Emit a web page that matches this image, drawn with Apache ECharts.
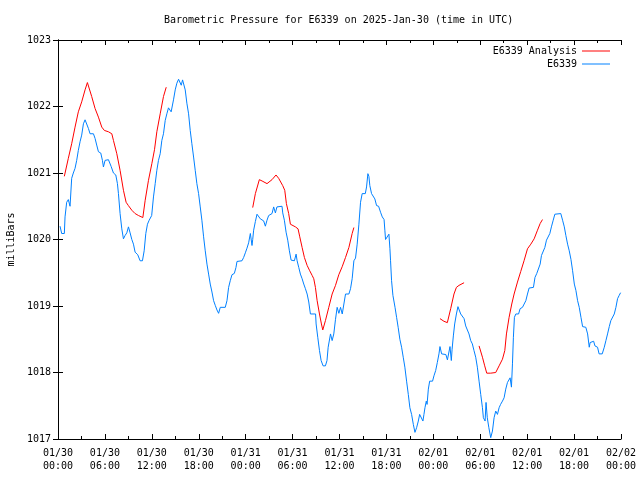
<!DOCTYPE html>
<html>
<head>
<meta charset="utf-8">
<script src="https://cdn.jsdelivr.net/npm/echarts@6/dist/echarts.min.js"></script>
<style>html,body{margin:0;padding:0;background:#fff;}#c{width:640px;height:480px;}</style>
</head>
<body>
<div id="c"></div>
<script>
const titleText = 'Barometric Pressure for E6339 on 2025-Jan-30 (time in UTC)';
const xTickLabels = ['01/30\n00:00','01/30\n06:00','01/30\n12:00','01/30\n18:00','01/31\n00:00','01/31\n06:00','01/31\n12:00','01/31\n18:00','02/01\n00:00','02/01\n06:00','02/01\n12:00','02/01\n18:00','02/02\n00:00'];
// hours since 01/30 00:00 UTC
const obsHours = [0.26,0.47,0.81,0.90,1.11,1.32,1.54,1.75,1.96,2.18,2.39,2.60,2.82,3.03,3.25,3.46,3.67,3.89,4.10,4.53,4.74,4.95,5.17,5.47,5.68,5.81,6.02,6.45,6.79,7.09,7.39,7.60,7.73,7.94,8.16,8.37,8.58,8.80,9.01,9.22,9.44,9.65,9.86,10.2,10.5,10.8,11.02,11.23,11.44,11.66,11.98,12.21,12.43,12.64,12.85,13.07,13.28,13.49,13.71,13.92,14.13,14.35,14.47,14.6,14.77,14.99,15.2,15.42,15.63,15.76,15.93,16.05,16.27,16.48,16.7,16.91,17.12,17.34,17.55,17.76,17.98,18.19,18.4,18.62,18.83,19.05,19.26,19.47,19.69,19.9,20.11,20.33,20.54,20.75,21.39,21.61,21.82,22.03,22.25,22.55,22.76,22.89,23.53,23.74,23.96,24.17,24.38,24.6,24.81,24.9,25.02,25.24,25.45,25.66,25.88,26.09,26.3,26.52,26.73,26.94,27.16,27.37,27.58,27.8,28.0,28.22,28.65,28.74,28.95,29.17,29.38,29.59,29.81,30.23,30.45,30.58,30.79,31.0,31.22,31.43,31.64,31.86,32.07,32.28,32.94,33.01,33.22,33.44,33.65,33.9,34.2,34.4,34.55,34.85,35.06,35.27,35.49,35.7,35.92,36.13,36.35,36.56,36.77,37.2,37.41,37.62,37.84,38.05,38.26,38.48,38.69,38.9,39.3,39.46,39.63,39.76,39.88,40.1,40.3,40.52,40.74,41.0,41.25,41.47,41.7,41.8,41.89,42.1,42.32,42.45,42.53,42.66,42.83,43.1,43.3,43.5,43.72,43.94,44.15,44.36,44.58,44.8,45.0,45.22,45.44,45.65,45.86,46.08,46.25,46.5,46.67,46.8,46.93,47.1,47.2,47.36,47.53,47.9,48.08,48.3,48.51,48.72,48.85,49.06,49.6,49.8,50.0,50.13,50.3,50.4,50.56,50.73,50.95,51.15,51.35,51.5,51.7,51.93,52.14,52.35,52.56,52.78,52.99,53.2,53.42,53.63,53.85,54.06,54.28,54.4,54.5,54.62,54.74,54.9,55.1,55.34,55.56,55.77,55.98,56.1,56.2,56.41,56.6,56.84,57.05,57.26,57.48,57.7,57.82,57.99,58.12,58.24,58.37,58.55,58.9,59.1,59.4,59.6,59.83,60.04,60.25,60.47,60.8,61.0,61.23,61.45,61.66,61.83,62.05,62.26,62.47,62.7,62.9,63.1,63.33,63.54,63.75,64.3,64.53,64.75,64.95,65.17,65.38,65.6,65.81,66.03,66.24,66.45,66.66,66.88,67.09,67.5,67.73,67.94,68.05,68.24,68.5,68.67,69.0,69.2,69.6,69.86,70.07,70.28,70.5,70.7,70.9,71.14,71.35,71.56,71.77,71.95];
const obsPressure = [1020.20,1020.09,1020.09,1020.34,1020.56,1020.60,1020.50,1020.92,1021.00,1021.07,1021.19,1021.34,1021.47,1021.57,1021.74,1021.80,1021.80,1021.67,1021.59,1021.59,1021.52,1021.42,1021.32,1021.30,1021.19,1021.09,1021.19,1021.20,1021.10,1021.00,1020.97,1020.84,1020.69,1020.39,1020.16,1020.01,1020.06,1020.10,1020.19,1020.10,1020.00,1019.93,1019.81,1019.77,1019.68,1019.68,1019.83,1020.09,1020.23,1020.29,1020.36,1020.64,1020.84,1021.04,1021.19,1021.29,1021.49,1021.59,1021.79,1021.89,1021.98,1022.00,1021.92,1021.90,1022.10,1022.25,1022.35,1022.41,1022.40,1022.32,1022.40,1022.41,1022.25,1022.05,1021.89,1021.64,1021.44,1021.24,1021.04,1020.84,1020.69,1020.49,1020.29,1020.04,1019.83,1019.63,1019.48,1019.33,1019.21,1019.08,1019.01,1018.94,1018.89,1018.98,1018.98,1019.08,1019.28,1019.38,1019.47,1019.49,1019.58,1019.67,1019.68,1019.73,1019.80,1019.87,1019.95,1020.09,1019.91,1020.00,1020.14,1020.27,1020.38,1020.39,1020.31,1020.30,1020.28,1020.20,1020.29,1020.36,1020.39,1020.39,1020.49,1020.40,1020.49,1020.50,1020.50,1020.40,1020.29,1020.11,1019.99,1019.83,1019.69,1019.68,1019.78,1019.68,1019.58,1019.48,1019.41,1019.33,1019.26,1019.18,1019.06,1018.88,1018.88,1018.73,1018.53,1018.33,1018.18,1018.10,1018.10,1018.18,1018.38,1018.58,1018.48,1018.58,1018.80,1018.98,1018.89,1018.98,1018.88,1019.03,1019.18,1019.18,1019.26,1019.41,1019.68,1019.72,1019.93,1020.23,1020.56,1020.69,1020.69,1020.79,1020.99,1020.95,1020.81,1020.69,1020.68,1020.61,1020.51,1020.50,1020.41,1020.34,1020.30,1020.14,1020.00,1020.01,1020.08,1019.86,1019.68,1019.38,1019.16,1018.98,1018.83,1018.68,1018.50,1018.38,1018.23,1018.08,1017.87,1017.67,1017.47,1017.37,1017.22,1017.10,1017.17,1017.27,1017.37,1017.35,1017.27,1017.37,1017.47,1017.57,1017.52,1017.75,1017.87,1017.87,1017.95,1018.03,1018.15,1018.28,1018.39,1018.28,1018.27,1018.19,1018.22,1018.39,1018.18,1018.35,1018.55,1018.73,1018.88,1018.99,1018.98,1018.88,1018.87,1018.81,1018.70,1018.68,1018.58,1018.48,1018.43,1018.33,1018.23,1018.08,1017.87,1017.67,1017.47,1017.32,1017.35,1017.27,1017.55,1017.32,1017.17,1017.02,1017.12,1017.32,1017.42,1017.41,1017.37,1017.47,1017.52,1017.57,1017.62,1017.75,1017.85,1017.83,1017.92,1017.78,1018.13,1018.53,1018.83,1018.88,1018.88,1018.96,1018.98,1019.00,1019.08,1019.18,1019.27,1019.28,1019.28,1019.43,1019.49,1019.50,1019.63,1019.76,1019.79,1019.88,1019.99,1020.00,1020.09,1020.19,1020.29,1020.38,1020.39,1020.39,1020.29,1020.19,1020.06,1019.93,1019.83,1019.70,1019.53,1019.33,1019.23,1019.08,1018.98,1018.83,1018.69,1018.68,1018.58,1018.38,1018.45,1018.48,1018.47,1018.40,1018.38,1018.28,1018.28,1018.38,1018.48,1018.58,1018.69,1018.78,1018.79,1018.88,1018.98,1019.11,1019.16,1019.20];
// analysis: null marks a gap between segments
const anaHours = [0.81,1.32,1.75,2.18,2.6,3.03,3.46,3.76,4.31,4.74,5.17,5.6,5.93,6.45,6.88,7.09,7.52,7.94,8.37,8.71,9.0,9.44,9.86,10.3,10.85,11.15,11.57,12.0,12.34,12.64,13.07,13.49,13.84,
  18.0,
  24.9,25.24,25.75,26.1,26.73,27.37,27.88,28.22,28.74,29.0,29.21,29.5,29.72,29.94,30.36,30.7,30.92,31.22,31.51,31.86,32.19,32.5,32.71,32.92,33.14,33.44,33.69,33.86,34.2,34.63,35.06,35.49,35.91,36.34,36.77,37.2,37.62,37.84,
  42.0,
  48.85,49.36,49.79,50.22,50.64,50.95,51.28,51.93,
  52.9,
  53.85,54.28,54.57,54.83,55.34,55.98,56.41,56.84,57.14,57.35,57.69,58.03,58.33,58.76,59.18,59.6,60.04,60.47,60.89,61.32,61.66,61.96];
const anaPressure = [1020.95,1021.22,1021.44,1021.69,1021.92,1022.07,1022.25,1022.36,1022.15,1021.97,1021.84,1021.69,1021.64,1021.62,1021.59,1021.49,1021.29,1021.04,1020.74,1020.56,1020.51,1020.44,1020.39,1020.36,1020.33,1020.59,1020.89,1021.14,1021.35,1021.62,1021.89,1022.15,1022.29,
  null,
  1020.48,1020.69,1020.90,1020.88,1020.84,1020.90,1020.97,1020.92,1020.81,1020.74,1020.54,1020.39,1020.23,1020.20,1020.19,1020.16,1020.04,1019.88,1019.73,1019.61,1019.53,1019.46,1019.41,1019.28,1019.08,1018.88,1018.73,1018.64,1018.78,1018.98,1019.18,1019.31,1019.47,1019.59,1019.73,1019.88,1020.09,1020.18,
  null,
  1018.81,1018.77,1018.75,1018.96,1019.18,1019.28,1019.31,1019.35,
  null,
  1018.40,1018.23,1018.10,1017.99,1017.99,1018.00,1018.10,1018.20,1018.33,1018.58,1018.83,1019.03,1019.18,1019.36,1019.52,1019.68,1019.86,1019.93,1020.01,1020.14,1020.24,1020.30];

const FONT = 'DejaVu Sans Mono';
const chart = echarts.init(document.getElementById('c'), null, {renderer: 'canvas'});
const pairs = (xs, ys) => xs.map((x, i) => [x, ys[i] === null ? '-' : ys[i]]);
const legendBase = {
  orient: 'vertical', align: 'right', icon: 'rect', itemWidth: 28, itemHeight: 1,
  padding: 0, itemGap: 0, right: 30,
  textStyle: {fontFamily: FONT, fontSize: 10, color: '#000'}
};
const xBase = {
  type: 'value', min: 0, max: 72, interval: 6,
  axisLine: {lineStyle: {color: '#000', width: 1}},
  axisTick: {inside: true, length: 5, lineStyle: {color: '#000'}},
  minorTick: {show: true, splitNumber: 2, length: 3, lineStyle: {color: '#000'}},
  splitLine: {show: false}
};
chart.setOption({
  animation: false,
  backgroundColor: '#fff',
  title: {text: titleText, left: 164, top: 15, padding: 0,
    textStyle: {fontFamily: FONT, fontSize: 10, fontWeight: 'normal', color: '#000'}},
  legend: [
    Object.assign({}, legendBase, {data: ['E6339 Analysis'], top: 46}),
    Object.assign({}, legendBase, {data: ['E6339'], top: 59})
  ],
  grid: {left: 58, right: 19, top: 40, bottom: 41, containLabel: false, outerBoundsMode: 'none', show: false},
  xAxis: [
    Object.assign({}, xBase, {position: 'bottom',
      axisLabel: {margin: 8, lineHeight: 13, fontFamily: FONT, fontSize: 10, color: '#000',
        formatter: v => xTickLabels[Math.round(v / 6)]}}),
    Object.assign({}, xBase, {position: 'top', axisLabel: {show: false}})
  ],
  yAxis: [
    {type: 'value', min: 1017, max: 1023, interval: 1, position: 'left',
      name: 'milliBars', nameLocation: 'middle', nameGap: 40, nameRotate: 90,
      nameTextStyle: {fontFamily: FONT, fontSize: 10, color: '#000'},
      axisLine: {show: true, lineStyle: {color: '#000'}},
      axisTick: {show: true, inside: true, length: 5, lineStyle: {color: '#000'}},
      axisLabel: {margin: 7, fontFamily: FONT, fontSize: 10, color: '#000', formatter: v => String(v)},
      splitLine: {show: false}},
    {type: 'value', min: 1017, max: 1023, interval: 1, position: 'right',
      axisLine: {show: true, lineStyle: {color: '#000'}},
      axisTick: {show: true, inside: true, length: 5, lineStyle: {color: '#000'}},
      axisLabel: {show: false}, splitLine: {show: false}}
  ],
  series: [
    {name: 'E6339 Analysis', type: 'line', data: pairs(anaHours, anaPressure),
      showSymbol: false, symbol: 'none', connectNulls: false,
      lineStyle: {color: '#ff0000', width: 1}, itemStyle: {color: '#ff0000'}},
    {name: 'E6339', type: 'line', data: pairs(obsHours, obsPressure),
      showSymbol: false, symbol: 'none',
      lineStyle: {color: '#0080ff', width: 1}, itemStyle: {color: '#0080ff'}}
  ]
});
</script>
</body>
</html>
